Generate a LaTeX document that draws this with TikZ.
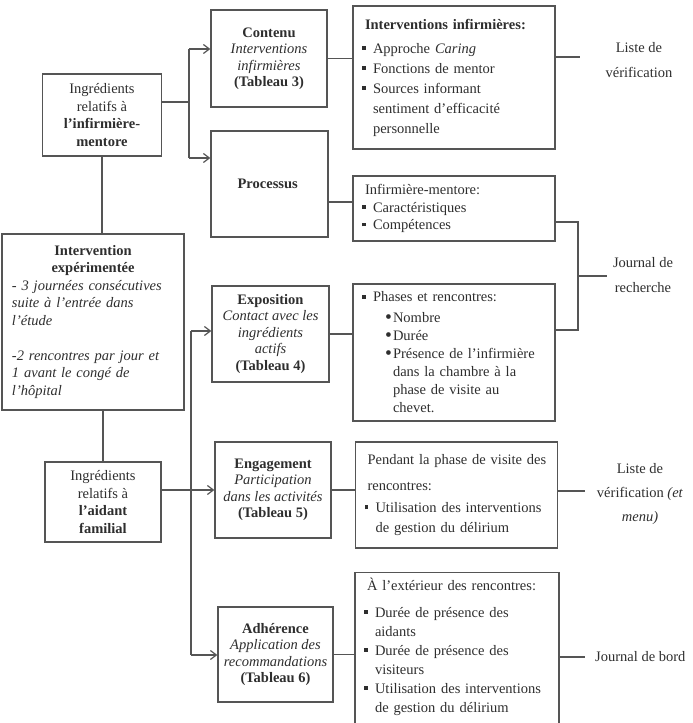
\documentclass[tikz,border=0pt]{standalone}
\usepackage{fontspec}
\setmainfont{Liberation Serif}
\usetikzlibrary{positioning,arrows.meta}

\definecolor{ink}{HTML}{2E2E2E}
\definecolor{wiregray}{HTML}{555555}

% bullets used inside the list boxes
\newcommand{\sqbul}{\makebox[13pt][l]{\hspace{2pt}\rule[0.22em]{3.8pt}{3.8pt}}}
\newcommand{\dotbul}{\makebox[8pt][l]{\raisebox{-0.05em}{\scalebox{1.35}{\textbullet}}}}
\newcommand{\ind}[1]{\hspace*{#1}}

\begin{document}
\begin{tikzpicture}[
  x=1pt, y=-1pt,
  font=\fontsize{14.5}{17.5}\selectfont,
  >={Straight Barb[length=6pt,width=9pt]},
  % boxes
  box/.style={draw=wiregray, line width=1.2pt, text=ink, align=center,
    inner sep=4pt},
  midbox/.style={box, font=\fontsize{14.5}{16.5}\selectfont},
  listbox/.style={box, align=left, text width=188pt, inner xsep=7pt,
    inner ysep=5pt},
  note/.style={text=ink, align=center, inner sep=0pt},
  link/.style={draw=wiregray, line width=1.2pt},
]

% fixed canvas
\useasboundingbox (0,0) rectangle (693,723);

% ---------------------------------------------------------------
% Left column: ingredients and intervention
% ---------------------------------------------------------------
\node[box, minimum width=119pt, minimum height=82pt] (mentor) at (102,115) {
  Ingrédients\\
  relatifs à\\
  \textbf{l'infirmière-}\\
  \textbf{mentore}
};

\node[box, minimum width=182pt, minimum height=176pt, align=left,
      text width=162pt, inner xsep=10pt] (exper) at (93,322) {
  \makebox[162pt]{\textbf{Intervention}}\\
  \makebox[162pt]{\textbf{expérimentée}}\\
  \textit{- 3 journées consécutives}\\
  \textit{suite à l'entrée dans}\\
  \textit{l'étude}\\[17.5pt]
  \textit{-2 rencontres par jour et}\\
  \textit{1 avant le congé de}\\
  \textit{l'hôpital}
};

\node[box, minimum width=116pt, minimum height=80pt] (aidant) at (103,502) {
  Ingrédients\\
  relatifs à\\
  \textbf{l'aidant}\\
  \textbf{familial}
};

% ---------------------------------------------------------------
% Middle column: fidelity components
% ---------------------------------------------------------------
\node[midbox, minimum width=116pt, minimum height=97pt] (contenu) at (269,58.5) {
  \textbf{Contenu}\\
  \textit{Interventions}\\
  \textit{infirmières}\\
  \textbf{(Tableau 3)}
};

\node[midbox, minimum width=117pt, minimum height=106pt] (processus) at (269.5,184) {
  \textbf{Processus}
};

\node[midbox, minimum width=117pt, minimum height=96pt] (expo) at (270.5,334) {
  \textbf{Exposition}\\
  \textit{Contact avec les}\\
  \textit{ingrédients}\\
  \textit{actifs}\\
  \textbf{(Tableau 4)}
};

\node[midbox, minimum width=116pt, minimum height=96pt] (engag) at (273,490) {
  \textbf{Engagement}\\
  \textit{Participation}\\
  \textit{dans les activités}\\
  \textbf{(Tableau 5)}
};

\node[midbox, minimum width=115pt, minimum height=95pt] (adher) at (275.5,654.5) {
  \textbf{Adhérence}\\
  \textit{Application des}\\
  \textit{recommandations}\\
  \textbf{(Tableau 6)}
};

% ---------------------------------------------------------------
% Right column: indicators
% ---------------------------------------------------------------
\node[listbox, minimum height=143pt, font=\fontsize{14.5}{20}\selectfont]
  (interv) at (454,77.5) {
  \ind{5pt}\textbf{Interventions infirmières:}\\[4pt]
  \sqbul Approche \textit{Caring}\\
  \sqbul Fonctions de mentor\\
  \sqbul Sources informant\\
  \ind{13pt}sentiment d'efficacité\\
  \ind{13pt}personnelle
};

\node[listbox, minimum height=65pt] (infm) at (454,208.5) {
  \ind{5pt}Infirmière-mentore:\\
  \sqbul Caractéristiques\\
  \sqbul Compétences
};

\node[listbox, minimum height=137pt, font=\fontsize{14.5}{18}\selectfont]
  (phases) at (454,352.5) {
  \sqbul Phases et rencontres:\\[3pt]
  \ind{25pt}\dotbul Nombre\\
  \ind{25pt}\dotbul Durée\\
  \ind{25pt}\dotbul Présence de l'infirmière\\
  \ind{33pt}dans la chambre à la\\
  \ind{33pt}phase de visite au\\
  \ind{33pt}chevet.
};

\node[listbox, minimum height=106pt, font=\fontsize{14.5}{20}\selectfont]
  (pendant) at (456.5,495) {
  \ind{5pt}Pendant la phase de visite des\\[6pt]
  \ind{5pt}rencontres:\\[2pt]
  \sqbul Utilisation des interventions\\
  \ind{13pt}de gestion du délirium
};

\node[listbox, anchor=north, text width=190pt, font=\fontsize{14.5}{19}\selectfont]
  (exterieur) at (457,572) {
  \ind{5pt}À l'extérieur des rencontres:\\[8pt]
  \sqbul Durée de présence des\\
  \ind{13pt}aidants\\
  \sqbul Durée de présence des\\
  \ind{13pt}visiteurs\\
  \sqbul Utilisation des interventions\\
  \ind{13pt}de gestion du délirium\\[16pt]
  \mbox{}
};

% --- measurement tools
\node[note] (chk1) at (639,60) {Liste de\\[7pt]vérification};
\node[note] (rech) at (643,275) {Journal de\\[8pt]recherche};
\node[note] (chk2) at (640,494) {Liste de\\[6.5pt]vérification \textit{(et}\\[6.5pt]\textit{menu)}};
\node[note, anchor=west] (bord) at (595,657) {Journal de bord};

% ---------------------------------------------------------------
% Connectors
% ---------------------------------------------------------------
\draw[link] (mentor.south) -- (mentor.south |- exper.north);
\draw[link] (aidant.north |- exper.south) -- (aidant.north);

% nurse ingredients -> content, process
\coordinate (j1) at (189,102);
\coordinate (j1a) at (189,49);
\coordinate (j1b) at (189,158);
\draw[link] (j1 -| mentor.east) -- (j1);
\draw[link] (j1a) -- (j1b);
\draw[link, ->] (j1a) -- (j1a -| contenu.west);
\draw[link, ->] (j1b) -- (j1b -| processus.west);

% caregiver ingredients -> exposure, engagement, adherence
\coordinate (j2a) at (191,331);
\coordinate (j2b) at (191,655);
\draw[link] (j2a) -- (j2b);
\draw[link, ->] (j2a) -- (j2a -| expo.west);
\draw[link, ->] (j2b) -- (j2b -| adher.west);
\draw[link, ->] (aidant.east |- engag.west) -- (engag.west);

% components -> indicator boxes
\coordinate (p1) at (340,202);
\draw[link] (contenu.east) -- (contenu.east -| interv.west);
\draw[link] (p1 -| processus.east) -- (p1 -| infm.west);
\draw[link] (expo.east) -- (expo.east -| phases.west);
\draw[link] (engag.east) -- (engag.east -| pendant.west);
\draw[link] (adher.east) -- (adher.east -| exterieur.west);

% indicator boxes -> tools
\coordinate (c1) at (580,57);
\draw[link] (c1 -| interv.east) -- (c1);
\coordinate (b1) at (578,222);
\coordinate (b2) at (578,330);
\coordinate (b3) at (607,276);
\draw[link] (b1 -| infm.east) -- (b1) -- (b2) -- (b2 -| phases.east);
\draw[link] (b1 |- b3) -- (b3);
\coordinate (c2) at (585,491);
\draw[link] (c2 -| pendant.east) -- (c2);
\coordinate (c3) at (585,657);
\draw[link] (c3 -| exterieur.east) -- (c3);

\end{tikzpicture}
\end{document}
